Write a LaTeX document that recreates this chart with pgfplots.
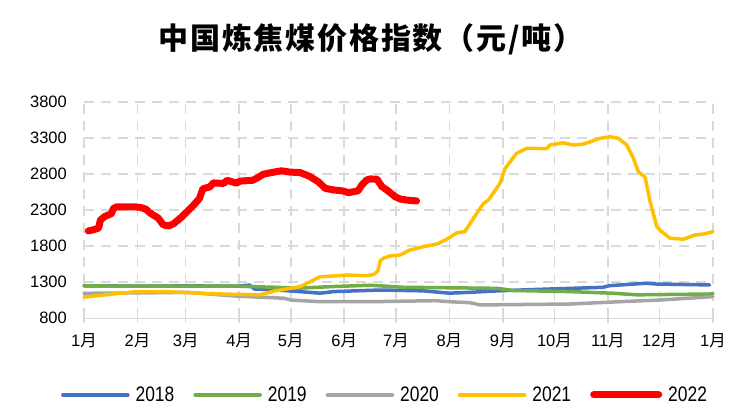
\documentclass[border=0pt]{standalone}
\usepackage{fontspec}
\setmainfont{Liberation Sans}
\newfontfamily\cjk{Noto Sans CJK SC}
\newfontfamily\cjktitle[LetterSpace=6]{Noto Sans CJK SC}
\newfontfamily\legfont[FakeStretch=0.83]{Liberation Sans}
\usepackage{pgfplots}
\pgfplotsset{compat=1.18}
\definecolor{c18}{HTML}{4472C4}
\definecolor{c19}{HTML}{70AD47}
\definecolor{c20}{HTML}{A5A5A5}
\definecolor{c21}{HTML}{FFC000}
\definecolor{c22}{HTML}{FF0000}
\definecolor{gridc}{HTML}{D9D9D9}
\begin{document}
\begin{tikzpicture}
\path[use as bounding box] (-84bp,-97.7bp) rectangle (664bp,318.3bp);
\begin{axis}[
  at={(0,0)}, anchor=south west,
  scale only axis, width=629bp, height=216.6bp,
  xmin=0, xmax=365, ymin=800, ymax=3800,
  xtick={0,31,59,90,120,151,181,212,243,273,304,334,365},
  xticklabels={1{\cjk 月},2{\cjk 月},3{\cjk 月},4{\cjk 月},5{\cjk 月},6{\cjk 月},7{\cjk 月},8{\cjk 月},9{\cjk 月},10{\cjk 月},11{\cjk 月},12{\cjk 月},1{\cjk 月}},
  ytick={800,1300,1800,2300,2800,3300,3800},
  yticklabels={800,1300,1800,2300,2800,3300,3800},
  grid=major,
  major grid style={draw=gridc, line width=1.6bp, dash pattern=on 10bp off 7bp},
  axis x line*=bottom, axis y line*=left,
  x axis line style={draw=gridc, line width=1.6bp, -},
  y axis line style={draw=none},
  tick align=outside,
  xtick style={draw=gridc, line width=1.6bp},
  major tick length=5bp,
  ytick style={draw=none},
  xticklabel style={font=\fontsize{16.5bp}{18bp}\selectfont, inner sep=0pt, anchor=center, yshift=-17bp},
  yticklabel style={font=\fontsize{16.5bp}{18bp}\selectfont, inner sep=0pt, anchor=east, xshift=-12bp},
  legend columns=5,
  legend style={at={(0.477,-0.354)}, anchor=center, draw=none, fill=none,
    font=\legfont\fontsize{21bp}{23bp}\selectfont,
    column sep=6bp,
    /tikz/every even column/.append style={column sep=19bp},
    nodes={inner sep=0pt}},
  legend image code/.code={\draw[#1] (0bp,0bp) -- (65bp,0bp);},
  legend cell align=left,
  clip=false,
  every axis plot/.append style={line join=round, line cap=round},
]
\addplot[c18, line width=3.5bp] coordinates {
(0,1250) (30,1246) (60,1248) (90,1246) (96,1260) (99,1205) (110,1195) (125,1170) (137,1148) (145,1170) (172,1192) (197,1180) (212,1148) (224,1160) (243,1183) (263,1200) (301,1229) (305,1252) (326,1285) (332,1275) (363,1262)
};
\addlegendentry{2018}
\addplot[c19, line width=3.5bp] coordinates {
(0,1250) (30,1244) (60,1247) (90,1244) (110,1230) (125,1218) (145,1240) (166,1258) (185,1230) (240,1215) (249,1185) (282,1170) (307,1147) (321,1125) (365,1137)
};
\addlegendentry{2019}
\addplot[c20, line width=3.5bp] coordinates {
(0,1146) (48,1155) (60,1160) (87,1110) (116,1078) (120,1053) (137,1030) (172,1032) (204,1044) (212,1030) (224,1016) (230,985) (282,998) (311,1030) (334,1053) (359,1091) (365,1100)
};
\addlegendentry{2020}
\addplot[c21, line width=3.5bp] coordinates {
(0,1095) (3,1100) (11,1122) (20,1145) (29,1165) (48,1168) (60,1155) (75,1140) (87,1132) (102,1125) (110,1175) (119.5,1215) (125.4,1238) (131,1305) (137,1375) (145,1386) (152.5,1400) (164,1390) (168,1405) (170.5,1455) (172,1600) (174,1635) (177.6,1663) (183.4,1677) (189,1745) (197,1792) (205,1830) (210.5,1894) (216.3,1985) (221,2000) (226,2185) (231.8,2390) (234.7,2438) (241.4,2670) (244.3,2875) (251,3085) (257,3154) (268.5,3150) (270.4,3200) (278,3230) (284,3200) (290,3214) (299.5,3293) (305.3,3315) (310,3293) (315,3200) (318.8,3016) (321.7,2830) (325.6,2753) (328.5,2415) (332.4,2069) (335.3,2000) (340,1910) (347.8,1895) (354.6,1954) (359.4,1967) (365,2000)
};
\addlegendentry{2021}
\addplot[c22, line width=7bp] coordinates {
(2.5,2010) (6,2030) (8.5,2050) (9.5,2160) (12,2210) (16,2250) (17,2320) (19,2345) (29,2345) (33,2335) (36,2310) (38.5,2255) (43,2190) (46,2095) (49,2078) (52,2110) (56.5,2200) (59.5,2270) (63.5,2365) (67,2460) (69,2595) (73,2620) (75,2675) (81,2668) (83,2712) (88.5,2672) (90.5,2700) (98,2712) (101,2750) (104,2795) (108,2815) (114.5,2843) (119.5,2825) (125.5,2818) (131,2765) (136,2690) (140,2600) (144.7,2578) (150.5,2563) (153.5,2540) (159,2565) (161.2,2645) (164,2715) (166,2730) (170,2728) (172.8,2625) (175.7,2578) (180.5,2485) (183.4,2452) (187,2438) (193,2425)
};
\addlegendentry{2022}
\end{axis}
\node[font=\cjktitle\bfseries\fontsize{30bp}{32bp}\selectfont, inner sep=0pt] at (287bp,279bp) {中国炼焦煤价格指数（元/吨）};
\end{tikzpicture}
\end{document}
